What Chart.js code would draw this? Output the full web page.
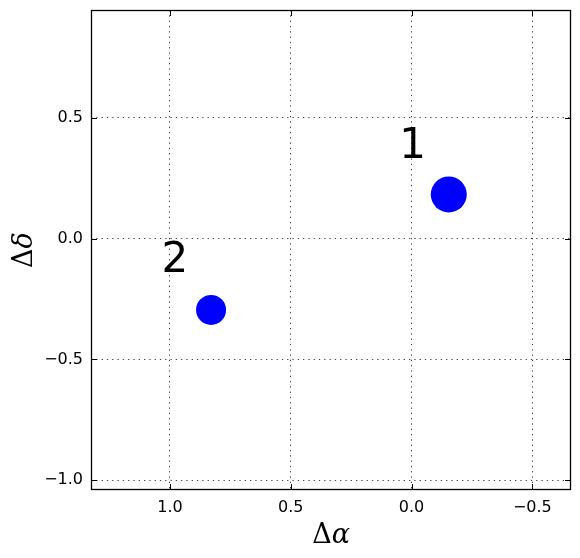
<!DOCTYPE html>
<html>
<head>
<meta charset="utf-8">
<script src="https://cdn.jsdelivr.net/npm/chart.js@4.4.0/dist/chart.umd.min.js"></script>
<style>
  html, body { margin: 0; padding: 0; background: #fff; }
  #wrap { width: 580px; height: 558px; }
</style>
</head>
<body>
<div id="wrap"><canvas id="myGraph"></canvas></div>
<script>
// offsets of the two sources
const sourceIds = ["1", "2"];
const deltaAlpha = [-0.154, 0.830];
const deltaDelta = [0.183, -0.295];
const markerRadius = [18, 15];
// where the number labels sit (left edge, baseline)
const labelAlpha = [0.051, 1.035];
const labelDelta = [0.332, -0.140];

const xTicks = [1.0, 0.5, 0.0, -0.5];
const yTicks = [0.5, 0.0, -0.5, -1.0];
const xRange = [-0.66, 1.327];
const yRange = [-1.04, 0.946];

function fmt(v) {
  return v.toFixed(1).replace("-", "\u2212");
}

// matplotlib-ish frame, inward ticks, labels and axis titles
const decorations = {
  id: "decorations",
  afterDraw(chart) {
    const { ctx, chartArea: a, scales: { x, y } } = chart;
    ctx.save();
    ctx.strokeStyle = "#000";
    ctx.lineWidth = 1;
    ctx.beginPath();
    xTicks.forEach((v) => {
      const px = Math.round(x.getPixelForValue(v)) + 0.5;
      ctx.moveTo(px, a.bottom); ctx.lineTo(px, a.bottom - 6);
      ctx.moveTo(px, a.top); ctx.lineTo(px, a.top + 6);
    });
    yTicks.forEach((v) => {
      const py = Math.round(y.getPixelForValue(v)) + 0.5;
      ctx.moveTo(a.left, py); ctx.lineTo(a.left + 6, py);
      ctx.moveTo(a.right, py); ctx.lineTo(a.right - 6, py);
    });
    ctx.stroke();
    ctx.lineWidth = 1.3;
    ctx.strokeRect(a.left + 0.5, a.top + 0.5, a.width - 1, a.height - 1);

    // source numbers
    ctx.fillStyle = "#000";
    ctx.font = "42px 'DejaVu Sans'";
    ctx.textAlign = "left";
    ctx.textBaseline = "alphabetic";
    sourceIds.forEach((id, i) => {
      ctx.fillText(id, x.getPixelForValue(labelAlpha[i]), y.getPixelForValue(labelDelta[i]));
    });

    // axis titles: upright Delta + italic greek letter
    function mathTitle(cx, baseline, letter) {
      ctx.font = "27px 'DejaVu Serif'";
      const w1 = ctx.measureText("\u0394").width;
      ctx.font = "italic 27px 'DejaVu Serif'";
      const w2 = ctx.measureText(letter).width;
      const sx = cx - (w1 + w2) / 2;
      ctx.font = "27px 'DejaVu Serif'";
      ctx.fillText("\u0394", sx, baseline);
      ctx.font = "italic 27px 'DejaVu Serif'";
      ctx.fillText(letter, sx + w1, baseline);
    }
    mathTitle((a.left + a.right) / 2, 543, "\u03b1");
    ctx.translate(32, (a.top + a.bottom) / 2);
    ctx.rotate(-Math.PI / 2);
    mathTitle(0, 0, "\u03b4");
    ctx.restore();
  }
};

const points = deltaAlpha.map((v, i) => ({ x: v, y: deltaDelta[i] }));

new Chart(document.getElementById("myGraph"), {
  type: "scatter",
  data: {
    datasets: [
      {
        label: "sources",
        data: points,
        backgroundColor: "#0000ff",
        borderWidth: 0,
        pointRadius: markerRadius,
        pointHoverRadius: markerRadius
      }
    ]
  },
  options: {
    responsive: true,
    maintainAspectRatio: false,
    animation: false,
    layout: { autoPadding: false, padding: { left: 0, right: 9, top: 10, bottom: 0 } },
    plugins: { legend: { display: false }, tooltip: { enabled: false } },
    scales: {
      x: {
        type: "linear",
        reverse: true,
        min: xRange[0],
        max: xRange[1],
        afterBuildTicks: (s) => { s.ticks = xTicks.map((v) => ({ value: v })); },
        afterFit: (s) => { s.height = 68; s.paddingLeft = 0; s.paddingRight = 0; },
        grid: { color: "#444", lineWidth: 1, drawTicks: false },
        border: { display: false, dash: [1.3, 4] },
        ticks: {
          autoSkip: false,
          maxRotation: 0,
          padding: 8,
          color: "#000",
          font: { family: "DejaVu Sans", size: 16 },
          callback: (v) => fmt(v)
        }
      },
      y: {
        type: "linear",
        min: yRange[0],
        max: yRange[1],
        afterBuildTicks: (s) => { s.ticks = yTicks.map((v) => ({ value: v })); },
        afterFit: (s) => { s.width = 91; s.paddingTop = 0; s.paddingBottom = 0; },
        grid: { color: "#444", lineWidth: 1, drawTicks: false },
        border: { display: false, dash: [1.3, 4] },
        ticks: {
          autoSkip: false,
          padding: 8,
          color: "#000",
          font: { family: "DejaVu Sans", size: 16 },
          callback: (v) => fmt(v)
        }
      }
    }
  },
  plugins: [decorations]
});
</script>
</body>
</html>
